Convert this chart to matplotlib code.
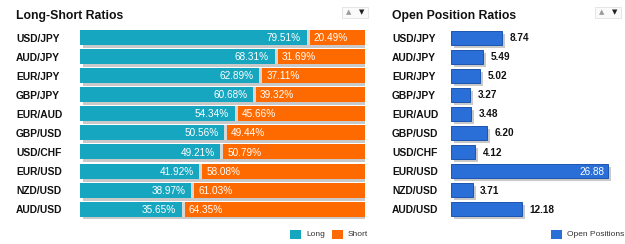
import matplotlib
matplotlib.use("Agg")
import matplotlib.pyplot as plt
from matplotlib.transforms import blended_transform_factory
from matplotlib.patches import Rectangle

plt.rcParams['font.family'] = ['Liberation Sans', 'DejaVu Sans']

pairs = ["USD/JPY", "AUD/JPY", "EUR/JPY", "GBP/JPY", "EUR/AUD",
         "GBP/USD", "USD/CHF", "EUR/USD", "NZD/USD", "AUD/USD"]
long_pct = [79.51, 68.31, 62.89, 60.68, 54.34, 50.56, 49.21, 41.92, 38.97, 35.65]
short_pct = [20.49, 31.69, 37.11, 39.32, 45.66, 49.44, 50.79, 58.08, 61.03, 64.35]
open_pos = [8.74, 5.49, 5.02, 3.27, 3.48, 6.20, 4.12, 26.88, 3.71, 12.18]

W, H = 625, 244
fig = plt.figure(figsize=(W / 100, H / 100), dpi=100)
fig.patch.set_facecolor("white")

TEAL = "#17a6bf"
ORANGE = "#ff6a00"
BLUE = "#2a6fd8"
BLUE_EDGE = "#1d55b0"
SHADOW = "#c9c9c9"
GAPC = "#d6d6d6"

def fx(px):
    return px / W

def fy(py):
    return 1 - py / H

row_h = 19.08
top = 37.5 - row_h / 2
n = len(pairs)
bottom = top + n * row_h
bh = 15 / row_h
lab_off = 4.1 / row_h     # baseline offset for bold labels
num_off = 3.6 / row_h     # baseline offset for numbers

# ---------- Left panel ----------
axL = fig.add_axes([fx(80), fy(bottom), fx(365) - fx(80), n * row_h / H])
axL.set_xlim(0, 100)
axL.set_ylim(n - 0.5, -0.5)
axL.axis("off")
ypos = list(range(n))
dx = 100 * 3 / 285
dy = 3 / row_h
gap = 100 * 3 / 285
axL.barh([y + dy for y in ypos], [100] * n, left=dx, height=bh, color=SHADOW, zorder=1)
axL.barh(ypos, [gap] * n, left=long_pct, height=bh, color=GAPC, zorder=1.5)
axL.barh(ypos, long_pct, height=bh, color=TEAL, zorder=2)
axL.barh(ypos, [s - gap for s in short_pct], left=[l + gap for l in long_pct],
         height=bh, color=ORANGE, zorder=2)
for y, l, s in zip(ypos, long_pct, short_pct):
    axL.text(l - 2.0, y + num_off, f"{l:.2f}%", color="white", ha="right", va="baseline",
             fontsize=7.2, zorder=3)
    axL.text(l + gap + 1.4, y + num_off, f"{s:.2f}%", color="white", ha="left", va="baseline",
             fontsize=7.2, zorder=3)

trL = blended_transform_factory(fig.transFigure, axL.transData)
for y, p in zip(ypos, pairs):
    axL.text(fx(16), y + lab_off, p, transform=trL, ha="left", va="baseline",
             fontsize=7.4, fontweight="bold", color="#111111")

# ---------- Right panel ----------
axR = fig.add_axes([fx(451), fy(bottom), fx(612) - fx(451), n * row_h / H])
axR.set_xlim(0, 27.5)
axR.set_ylim(n - 0.5, -0.5)
axR.axis("off")
rdx = 27.5 * 3 / 161
rbh = 14 / row_h
axR.barh([y + dy for y in ypos], open_pos, left=rdx, height=rbh, color=SHADOW, zorder=1)
axR.barh(ypos, open_pos, height=rbh, color=BLUE, edgecolor=BLUE_EDGE, linewidth=0.7,
         zorder=2)
for y, v in zip(ypos, open_pos):
    if v > 20:
        axR.text(v - 0.7, y + num_off, f"{v:.2f}", color="white", ha="right", va="baseline",
                 fontsize=7.2, zorder=3)
    else:
        axR.text(v + rdx + 0.75, y + num_off, f"{v:.2f}", color="#111111", ha="left",
                 va="baseline", fontsize=7.2, fontweight="bold", zorder=3)
trR = blended_transform_factory(fig.transFigure, axR.transData)
for y, p in zip(ypos, pairs):
    axR.text(fx(392), y + lab_off, p, transform=trR, ha="left", va="baseline",
             fontsize=7.4, fontweight="bold", color="#111111")

# ---------- Titles ----------
fig.text(fx(16), fy(19), "Long-Short Ratios", ha="left", va="baseline",
         fontsize=8.8, fontweight="bold", color="#111111")
fig.text(fx(392), fy(19), "Open Position Ratios", ha="left", va="baseline",
         fontsize=8.8, fontweight="bold", color="#111111")

# ---------- Up/down icons ----------
for x0 in (342, 595):
    fig.text(fx(x0 + 6.5), fy(12.5), "▲", ha="center", va="center",
             fontsize=5, color="#9a9a9a", family="DejaVu Sans")
    fig.text(fx(x0 + 19.5), fy(12.5), "▼", ha="center", va="center",
             fontsize=5, color="#222222", family="DejaVu Sans")
    fig.patches.append(Rectangle((fx(x0), fy(18)), fx(26), 11 / H,
                                 transform=fig.transFigure, facecolor="#fafafa",
                                 edgecolor="#e2e2e2", lw=0.6, zorder=0))

# ---------- Legends ----------
def legend_item(x0, color, label):
    fig.patches.append(Rectangle((fx(x0), fy(238.5)), fx(11), 9 / H,
                                 transform=fig.transFigure, facecolor=color,
                                 edgecolor="none"))
    fig.text(fx(x0 + 16), fy(236.5), label, ha="left", va="baseline",
             fontsize=6, color="#333333")

legend_item(290, TEAL, "Long")
legend_item(332, ORANGE, "Short")
legend_item(551, BLUE, "Open Positions")

fig.savefig("out.png", dpi=100, facecolor="white")
